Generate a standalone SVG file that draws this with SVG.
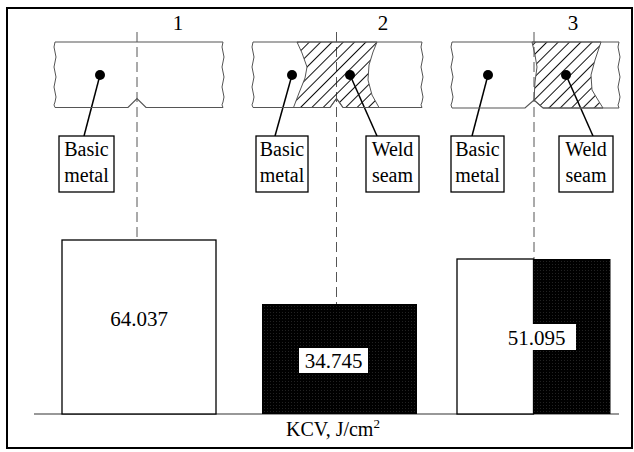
<svg xmlns="http://www.w3.org/2000/svg" width="634" height="452" viewBox="0 0 634 452">
<defs>
<style>
text{font-family:'Liberation Serif',serif;fill:#000}
.plate{fill:none;stroke:#555;stroke-width:1.2}
.brk{fill:none;stroke:#555;stroke-width:1}
.axis{stroke:#555;stroke-width:1;stroke-dasharray:10 5;fill:none}
.lead{stroke:#000;stroke-width:1.5;fill:none}
.box{fill:#fff;stroke:#000;stroke-width:1.3}
.bar{stroke:#000;stroke-width:1.3}
.lbl{font-size:20px;text-anchor:middle}
.num{font-size:21px;text-anchor:middle}
</style>
<pattern id="hatch" patternUnits="userSpaceOnUse" width="8" height="8" patternTransform="rotate(45)">
<line x1="0.5" y1="0" x2="0.5" y2="8" stroke="#111" stroke-width="1"/>
</pattern>
<pattern id="dots" patternUnits="userSpaceOnUse" width="3" height="3">
<rect width="3" height="3" fill="#000"/>
<rect width="1" height="1" fill="#222"/>
</pattern>
</defs>
<rect x="7" y="8" width="625" height="440" fill="#fff" stroke="#000" stroke-width="2"/>

<g id="connectors">
<line class="axis" x1="137" y1="32" x2="137" y2="240"/>
<line class="axis" x1="336.5" y1="32" x2="336.5" y2="304"/>
<line class="axis" x1="534" y1="32" x2="534" y2="259"/>
<line class="lead" x1="100" y1="75" x2="84" y2="136"/>
<line class="lead" x1="292" y1="75" x2="275" y2="136"/>
<line class="lead" x1="350" y1="75" x2="377" y2="136"/>
<line class="lead" x1="488" y1="75" x2="472" y2="136"/>
<line class="lead" x1="566" y1="75" x2="593" y2="136"/>
</g>

<g id="specimen1">
<text class="num" x="178" y="30">1</text>
<path class="plate" d="M55,42 H223 M55,107.5 H128 L137,98.5 L146,107.5 H223"/>
<path class="brk" d="M55,42 q-2,5 0,10 q2,5 0,10 q-2,5 0,10 q2,5 0,10 q-2,5 0,10 q2,5 0,10 q-2,3 0,5.5"/>
<path class="brk" d="M223,42 q-2,5 0,10 q2,5 0,10 q-2,5 0,10 q2,5 0,10 q-2,5 0,10 q2,5 0,10 q-2,3 0,5.5"/>
<circle cx="100" cy="75" r="5"/>
</g>

<g id="specimen2">
<text class="num" x="383" y="30">2</text>
<path d="M297,42 L302,53 L307,67 L305,78 L299,93 L293.5,107.5 H330 L336.5,98.5 L343,107.5 H379 L372,95 L368,80 L369,65 L373,52 L377,42 Z" fill="url(#hatch)" stroke="#555" stroke-width="1"/>
<path class="plate" d="M253,42 H422 M253,107.5 H330 L336.5,98.5 L343,107.5 H422"/>
<path class="brk" d="M253,42 q-2,5 0,10 q2,5 0,10 q-2,5 0,10 q2,5 0,10 q-2,5 0,10 q2,5 0,10 q-2,3 0,5.5"/>
<path class="brk" d="M422,42 q-2,5 0,10 q2,5 0,10 q-2,5 0,10 q2,5 0,10 q-2,5 0,10 q2,5 0,10 q-2,3 0,5.5"/>
<circle cx="292" cy="75" r="5"/>
<circle cx="350" cy="75" r="5"/>
</g>

<g id="specimen3">
<text class="num" x="573" y="30">3</text>
<path d="M532,42 L535,55 L537,67 L535,82 L534,100 L543,108 H603 L598,100 L592,90 L591,75 L595,60 L601,42 Z" fill="url(#hatch)" stroke="#555" stroke-width="1"/>
<path class="plate" d="M452,42 H619 M452,108 H525 L534,100 L543,108 H619"/>
<path class="brk" d="M452,42 q-2,5 0,10 q2,5 0,10 q-2,5 0,10 q2,5 0,10 q-2,5 0,10 q2,5 0,10 q-2,3 0,6"/>
<path class="brk" d="M619,42 q-2,5 0,10 q2,5 0,10 q-2,5 0,10 q2,5 0,10 q-2,5 0,10 q2,5 0,10 q-2,3 0,6"/>
<circle cx="488" cy="75" r="5"/>
<circle cx="566" cy="75" r="5"/>
</g>

<g id="label-basic-1">
<rect class="box" x="59" y="136" width="55" height="56"/>
<text class="lbl" x="86.5" y="156">Basic</text>
<text class="lbl" x="86.5" y="182">metal</text>
</g>
<g id="label-basic-2">
<rect class="box" x="256" y="136" width="52" height="56"/>
<text class="lbl" x="282" y="156">Basic</text>
<text class="lbl" x="282" y="182">metal</text>
</g>
<g id="label-weld-2">
<rect class="box" x="366" y="136" width="53" height="56"/>
<text class="lbl" x="392.5" y="156">Weld</text>
<text class="lbl" x="392.5" y="182">seam</text>
</g>
<g id="label-basic-3">
<rect class="box" x="451" y="136" width="53" height="56"/>
<text class="lbl" x="477.5" y="156">Basic</text>
<text class="lbl" x="477.5" y="182">metal</text>
</g>
<g id="label-weld-3">
<rect class="box" x="559" y="136" width="54" height="56"/>
<text class="lbl" x="586" y="156">Weld</text>
<text class="lbl" x="586" y="182">seam</text>
</g>

<g id="chart">
<line x1="34" y1="414" x2="619" y2="414" stroke="#333" stroke-width="1.2"/>
<g id="bar1">
<rect class="bar" x="62" y="240" width="154" height="174" fill="#fff"/>
<text class="num" x="139" y="326">64.037</text>
</g>
<g id="bar2">
<rect x="262" y="304" width="155" height="110" fill="url(#dots)"/>
<rect x="299" y="348" width="69" height="25" fill="#fff"/>
<text class="num" x="333.5" y="368">34.745</text>
</g>
<g id="bar3">
<rect x="533.5" y="259" width="77" height="155" fill="url(#dots)"/>
<rect class="bar" x="457" y="259" width="76.5" height="155" fill="#fff"/>
<rect x="497" y="324" width="79" height="26" fill="#fff"/>
<text class="num" x="536.5" y="345">51.095</text>
</g>
<text x="286" y="436" font-size="20">KCV, J/cm<tspan font-size="13" dy="-8">2</tspan></text>
</g>
</svg>
